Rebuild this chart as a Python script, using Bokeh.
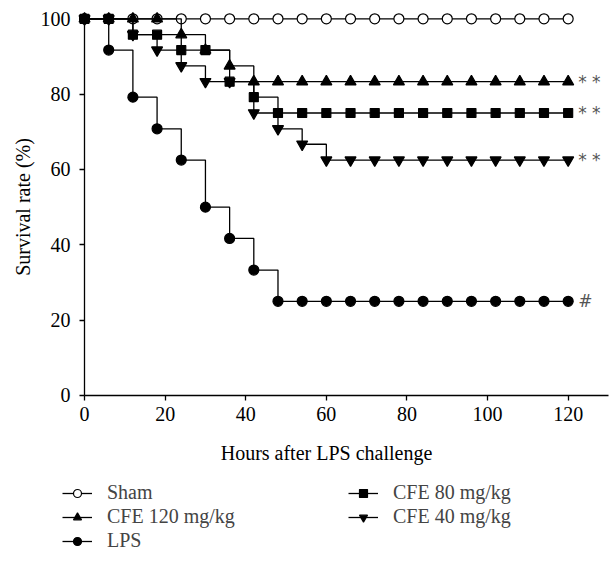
from bokeh.plotting import figure
from bokeh.models import Range1d, Legend, LegendItem, FixedTicker, ColumnDataSource, LinearAxis
from bokeh.core.properties import value
from bokeh.embed import file_html
from bokeh.resources import INLINE

hours = [0, 6, 12, 18, 24, 30, 36, 42, 48, 54, 60, 66, 72, 78, 84, 90, 96, 102, 108, 114, 120]
sham = [100, 100, 100, 100, 100, 100, 100, 100, 100, 100, 100, 100, 100, 100, 100, 100, 100, 100, 100, 100, 100]
cfe120 = [100, 100, 100, 100, 95.8, 91.7, 87.5, 83.3, 83.3, 83.3, 83.3, 83.3, 83.3, 83.3, 83.3, 83.3, 83.3, 83.3, 83.3, 83.3, 83.3]
cfe80 = [100, 100, 95.8, 95.8, 91.7, 91.7, 83.3, 79.2, 75, 75, 75, 75, 75, 75, 75, 75, 75, 75, 75, 75, 75]
cfe40 = [100, 100, 95.8, 91.7, 87.5, 83.3, 83.3, 75, 70.8, 66.7, 62.5, 62.5, 62.5, 62.5, 62.5, 62.5, 62.5, 62.5, 62.5, 62.5, 62.5]
lps = [100, 91.7, 79.2, 70.8, 62.5, 50, 41.7, 33.3, 25, 25, 25, 25, 25, 25, 25, 25, 25, 25, 25, 25, 25]

x_ticks = [0, 20, 40, 60, 80, 100, 120]
y_ticks = [0, 20, 40, 60, 80, 100]

sig_labels = ["* *", "* *", "* *", "#"]
sig_x = [120, 120, 120, 120]
sig_y = [cfe120[-1], cfe80[-1], cfe40[-1], lps[-1]]

FONT = "Liberation Serif"
FS = "20px"
W, H = 612, 561

p = figure(width=W, height=H, output_backend="svg", toolbar_location=None,
           x_range=Range1d(-20.85, 131.0), y_range=Range1d(-44.07, 104.86),
           min_border=0, min_border_left=0, min_border_right=0,
           min_border_top=0, min_border_bottom=0)
p.outline_line_color = None
p.grid.visible = False
p.background_fill_color = "white"
p.border_fill_color = "white"

def style(ax):
    ax.minor_tick_line_color = None
    ax.major_tick_in = 0
    ax.major_tick_out = 5
    ax.axis_line_width = 1.3
    ax.major_tick_line_width = 1.3
    ax.major_label_text_font = FONT
    ax.major_label_text_font_size = FS
    ax.major_label_text_color = "black"
    ax.axis_label_text_font = FONT
    ax.axis_label_text_font_size = FS
    ax.axis_label_text_font_style = "normal"
    ax.axis_label_text_color = "black"
    ax.major_label_standoff = 7

xa = p.xaxis[0]
ya = p.yaxis[0]
style(xa)
style(ya)
xa.ticker = FixedTicker(ticks=x_ticks)
ya.ticker = FixedTicker(ticks=y_ticks)
xa.bounds = (0, 130)
ya.bounds = (0, 100)
xa.fixed_location = 0
ya.fixed_location = 0
ya.axis_label = "Survival rate (%)"
ya.axis_label_standoff = 4
ya.major_label_standoff = 9

xlab = LinearAxis(fixed_location=0, bounds=(0, 120), ticker=FixedTicker(ticks=[]),
                  axis_label="Hours after LPS challenge")
style(xlab)
xlab.axis_line_color = None
xlab.major_tick_line_color = None
xlab.major_tick_out = 0
xlab.axis_label_standoff = 46
p.add_layout(xlab, "below")

series = [
    ("Sham", sham, "circle", 10, "white"),
    ("CFE 40 mg/kg", cfe40, "inverted_triangle", 11, "black"),
    ("CFE 120 mg/kg", cfe120, "triangle", 11, "black"),
    ("CFE 80 mg/kg", cfe80, "square", 9, "black"),
    ("LPS", lps, "circle", 10, "black"),
]
rends = {}
for name, vals, mk, sz, fill in series:
    src = ColumnDataSource(dict(x=hours, y=vals))
    s = p.step("x", "y", source=src, mode="after", line_color="black", line_width=1.3)
    m = p.scatter("x", "y", source=src, marker=mk, size=sz, fill_color=fill,
                  line_color="black", line_width=1.2)
    rends[name] = [s, m]

p.text(x=sig_x, y=sig_y, text=sig_labels, x_offset=10, text_baseline="middle",
       text_align="left", text_font=value("DejaVu Sans"), text_font_size="17px",
       text_color="#555555")

order = ["Sham", "CFE 120 mg/kg", "LPS", "CFE 80 mg/kg", "CFE 40 mg/kg"]
legend = Legend(items=[LegendItem(label=n, renderers=rends[n]) for n in order],
                ncols=2, location=(62, 9), glyph_width=30, glyph_height=20,
                label_height=20, label_standoff=15, spacing=1, padding=0, margin=0,
                label_width=240, border_line_color=None, background_fill_alpha=0,
                label_text_font=FONT, label_text_font_size=FS)
p.add_layout(legend, "center")

open("out.html", "w").write(file_html(p, INLINE))
